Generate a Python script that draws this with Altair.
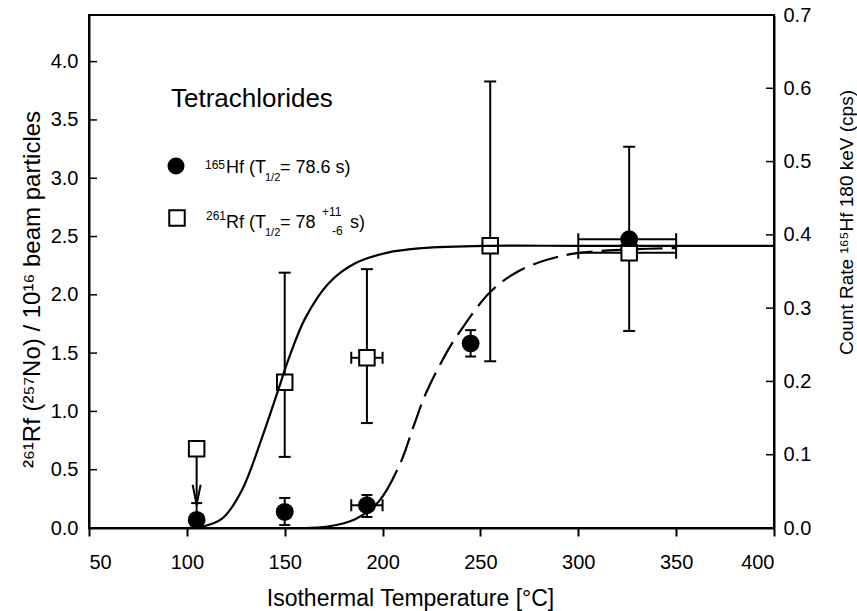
import altair as alt
import pandas as pd

FONT = "Liberation Sans"

# ---- 261Rf (left axis, per 10^16 beam particles) ----
rf_temp = [105, 150, 192, 255, 326]
rf_yield = [0.68, 1.25, 1.46, 2.42, 2.36]
rf_lo = [None, 0.61, 0.90, 1.43, 1.69]
rf_hi = [None, 2.19, 2.22, 3.83, 3.27]
rf_tlo = [None, None, 184, None, 300]
rf_thi = [None, None, 200, None, 350]

# upper limit at 105 °C (arrow)
rf_limit_temp = [105]
rf_limit_from = [0.68]
rf_limit_to = [0.20]

# fitted Rf curve (solid)
rf_fit_temp = [100, 107.5, 118, 128, 138.5, 147, 152, 160.5, 172.5, 186, 202, 220, 255, 300, 400]
rf_fit_yield = [0.0, 0.01, 0.08, 0.32, 0.78, 1.20, 1.45, 1.80, 2.10, 2.27, 2.36, 2.40, 2.42, 2.42, 2.42]

# ---- 165Hf (right axis, count rate in cps) ----
hf_temp = [105, 150, 192, 245, 326]
hf_rate = [0.011, 0.022, 0.031, 0.252, 0.394]
hf_lo = [0.0, 0.004, 0.015, 0.234, None]
hf_hi = [0.034, 0.041, 0.045, 0.270, None]
hf_tlo = [None, None, 184, None, 300]
hf_thi = [None, None, 200, None, 350]

# fitted Hf curve (solid start, dashed afterwards)
hf_fit_temp = [160, 172, 186, 198, 209, 216, 222.5, 233.5, 239.5, 255, 268.5, 284, 299.5, 325, 350]
hf_fit_rate = [0.0, 0.002, 0.012, 0.036, 0.088, 0.140, 0.186, 0.243, 0.268, 0.322, 0.349, 0.366, 0.375, 0.380, 0.382]

# axis ticks
x_ticks = [50, 100, 150, 200, 250, 300, 350, 400]
left_ticks = [0.0, 0.5, 1.0, 1.5, 2.0, 2.5, 3.0, 3.5, 4.0]
right_ticks = [0.0, 0.1, 0.2, 0.3, 0.4, 0.5, 0.6, 0.7]

W, H = 685, 513

rf = pd.DataFrame({"t": rf_temp, "v": rf_yield, "lo": rf_lo, "hi": rf_hi, "tlo": rf_tlo, "thi": rf_thi})
rf_lim = pd.DataFrame({"t": rf_limit_temp, "v": rf_limit_from, "tip": rf_limit_to})
rf_fit = pd.DataFrame({"t": rf_fit_temp, "v": rf_fit_yield})
hf = pd.DataFrame({"t": hf_temp, "v": hf_rate, "lo": hf_lo, "hi": hf_hi, "tlo": hf_tlo, "thi": hf_thi})
hf_fit = pd.DataFrame({"t": hf_fit_temp, "v": hf_fit_rate})
lt = pd.DataFrame({"v": left_ticks})
rt = pd.DataFrame({"v": right_ticks})
one = pd.DataFrame({"a": [0]})

x_scale = alt.Scale(domain=[50, 400], nice=False, zero=False)
x_axis = alt.Axis(values=x_ticks, format="d", title="Isothermal Temperature [°C]",
                  tickSize=8, labelPadding=32, labelBaseline="alphabetic",
                  titleX=321, titleY=77, titleBaseline="alphabetic", titleFontSize=23)

scL = alt.Scale(domain=[0, 4.4], nice=False, zero=False)
axL = alt.Axis(orient="left", values=left_ticks, format=".1f", ticks=False, labelPadding=11,
               title="²⁶¹Rf (²⁵⁷No) / 10¹⁶ beam particles", titleAngle=270,
               titleX=-50, titleY=274, titleAlign="center", titleBaseline="alphabetic",
               titleFontSize=24)

scR = alt.Scale(domain=[0, 0.7], nice=False, zero=False)
axR = alt.Axis(orient="right", values=right_ticks, format=".1f", ticks=False, labelPadding=9,
               title="Count Rate ¹⁶⁵Hf 180 keV (cps)", titleAngle=270,
               titleX=78, titleY=207, titleAlign="center", titleBaseline="alphabetic",
               titleFontSize=19)


def X(f="t"):
    return alt.X(f, type="quantitative", scale=x_scale, axis=x_axis)


def YL(f):
    return alt.Y(f, type="quantitative", scale=scL, axis=axL)


def YR(f):
    return alt.Y(f, type="quantitative", scale=scR, axis=axR)


def note(txt, x, y, size):
    return alt.Chart(one).mark_text(text=txt, align="left", baseline="alphabetic",
                                    fontSize=size, font=FONT, color="black").encode(
        x=alt.value(x), y=alt.value(y))


LW = 2

# ---------------- Hf layers (right axis) ----------------
hf_base = alt.Chart(hf)
hf_vbar = hf_base.transform_filter("isValid(datum.lo)").mark_rule(color="black", strokeWidth=LW).encode(
    x=X(), y=YR("lo"), y2="hi")
hf_vcap_lo = hf_base.transform_filter("isValid(datum.lo)").mark_tick(
    orient="horizontal", size=11, thickness=LW, color="black", opacity=1).encode(x=X(), y=YR("lo"))
hf_vcap_hi = hf_base.transform_filter("isValid(datum.hi)").mark_tick(
    orient="horizontal", size=11, thickness=LW, color="black", opacity=1).encode(x=X(), y=YR("hi"))
hf_hbar = hf_base.transform_filter("isValid(datum.tlo)").mark_rule(color="black", strokeWidth=LW).encode(
    x=X("tlo"), x2="thi", y=YR("v"))
hf_hcap_lo = hf_base.transform_filter("isValid(datum.tlo)").mark_tick(
    orient="vertical", size=12, thickness=LW, color="black", opacity=1).encode(x=X("tlo"), y=YR("v"))
hf_hcap_hi = hf_base.transform_filter("isValid(datum.thi)").mark_tick(
    orient="vertical", size=12, thickness=LW, color="black", opacity=1).encode(x=X("thi"), y=YR("v"))

# one continuous line: long solid first stroke, then regular dashes (even-length pattern)
dash_pattern = [118, 9] + [26, 9] * 30
hf_curve = alt.Chart(hf_fit).mark_line(
    color="black", strokeWidth=2.2, interpolate="catmull-rom", strokeDash=dash_pattern).encode(
    x=X(), y=YR("v"))

hf_pts = hf_base.mark_point(shape="circle", filled=True, color="black", size=320, opacity=1).encode(
    x=X(), y=YR("v"))

r_ticks = alt.Chart(rt).mark_rule(color="black", strokeWidth=1.5).encode(
    x=alt.value(W - 8), x2=alt.value(W), y=YR("v"))

hf_group = alt.layer(hf_vbar, hf_vcap_lo, hf_vcap_hi, hf_hbar, hf_hcap_lo, hf_hcap_hi,
                     hf_curve, hf_pts, r_ticks)

# ---------------- Rf layers (left axis) ----------------
rf_base = alt.Chart(rf)
rf_vbar = rf_base.transform_filter("isValid(datum.lo)").mark_rule(color="black", strokeWidth=LW).encode(
    x=X(), y=YL("lo"), y2="hi")
rf_vcap_lo = rf_base.transform_filter("isValid(datum.lo)").mark_tick(
    orient="horizontal", size=12, thickness=LW, color="black", opacity=1).encode(x=X(), y=YL("lo"))
rf_vcap_hi = rf_base.transform_filter("isValid(datum.hi)").mark_tick(
    orient="horizontal", size=12, thickness=LW, color="black", opacity=1).encode(x=X(), y=YL("hi"))
rf_hbar = rf_base.transform_filter("isValid(datum.tlo)").mark_rule(color="black", strokeWidth=LW).encode(
    x=X("tlo"), x2="thi", y=YL("v"))
rf_hcap_lo = rf_base.transform_filter("isValid(datum.tlo)").mark_tick(
    orient="vertical", size=12, thickness=LW, color="black", opacity=1).encode(x=X("tlo"), y=YL("v"))
rf_hcap_hi = rf_base.transform_filter("isValid(datum.thi)").mark_tick(
    orient="vertical", size=12, thickness=LW, color="black", opacity=1).encode(x=X("thi"), y=YL("v"))

# upper-limit arrow: shaft plus an open arrow head
rf_shaft = alt.Chart(rf_lim).mark_rule(color="black", strokeWidth=LW).encode(
    x=X(), y=YL("v"), y2="tip")
rf_head = alt.Chart(rf_lim).mark_point(shape="M -0.4 -1 L 0 1 L 0.4 -1", filled=False, color="black",
                                       strokeWidth=LW, size=400, yOffset=-10, opacity=1).encode(
    x=X(), y=YL("tip"))

rf_pts = rf_base.mark_point(shape="square", filled=True, fill="white", stroke="black",
                            strokeWidth=2, size=240, opacity=1).encode(x=X(), y=YL("v"))

rf_curve = alt.Chart(rf_fit).mark_line(color="black", strokeWidth=2.2, interpolate="catmull-rom").encode(
    x=X(), y=YL("v"))

l_ticks = alt.Chart(lt).mark_rule(color="black", strokeWidth=1.5).encode(
    x=alt.value(0), x2=alt.value(8), y=YL("v"))

# legend block
leg_circle = alt.Chart(one).mark_point(shape="circle", filled=True, color="black", size=290, opacity=1).encode(
    x=alt.value(87), y=alt.value(151))
leg_square = alt.Chart(one).mark_point(shape="square", filled=True, fill="white", stroke="black",
                                       strokeWidth=2, size=240, opacity=1).encode(
    x=alt.value(88), y=alt.value(203))

texts = [
    note("Tetrachlorides", 82, 92, 26),
    note("165", 116, 154, 12),
    note("Hf (T", 137, 158, 18),
    note("1/2", 176, 166, 11),
    note("= 78.6 s)", 191, 158, 18),
    note("261", 117, 205, 12),
    note("Rf (T", 137, 213, 18),
    note("1/2", 176, 221, 11),
    note("= 78", 191, 213, 18),
    note("+11", 233, 201, 12),
    note("-6", 243, 220, 12),
    note("s)", 261, 213, 18),
]

rf_group = alt.layer(rf_vbar, rf_vcap_lo, rf_vcap_hi, rf_hbar, rf_hcap_lo, rf_hcap_hi,
                     rf_shaft, rf_head, rf_pts, rf_curve, l_ticks, leg_circle, leg_square, *texts)

chart = alt.layer(hf_group, rf_group).resolve_scale(y="independent").properties(
    width=W, height=H,
    autosize=alt.AutoSizeParams(type="none"),
    padding={"left": 89, "top": 15, "right": 857 - 89 - W, "bottom": 611 - 15 - H},
    background="white",
).configure_view(
    stroke="black", strokeWidth=2,
).configure_axis(
    domainColor="black", domainWidth=2, tickColor="black", tickWidth=2,
    labelColor="black", titleColor="black", labelFont=FONT, titleFont=FONT,
    labelFontSize=20, titleFontWeight="normal", grid=False,
)

chart.save("out.html", embed_options={"renderer": "svg", "actions": False})
